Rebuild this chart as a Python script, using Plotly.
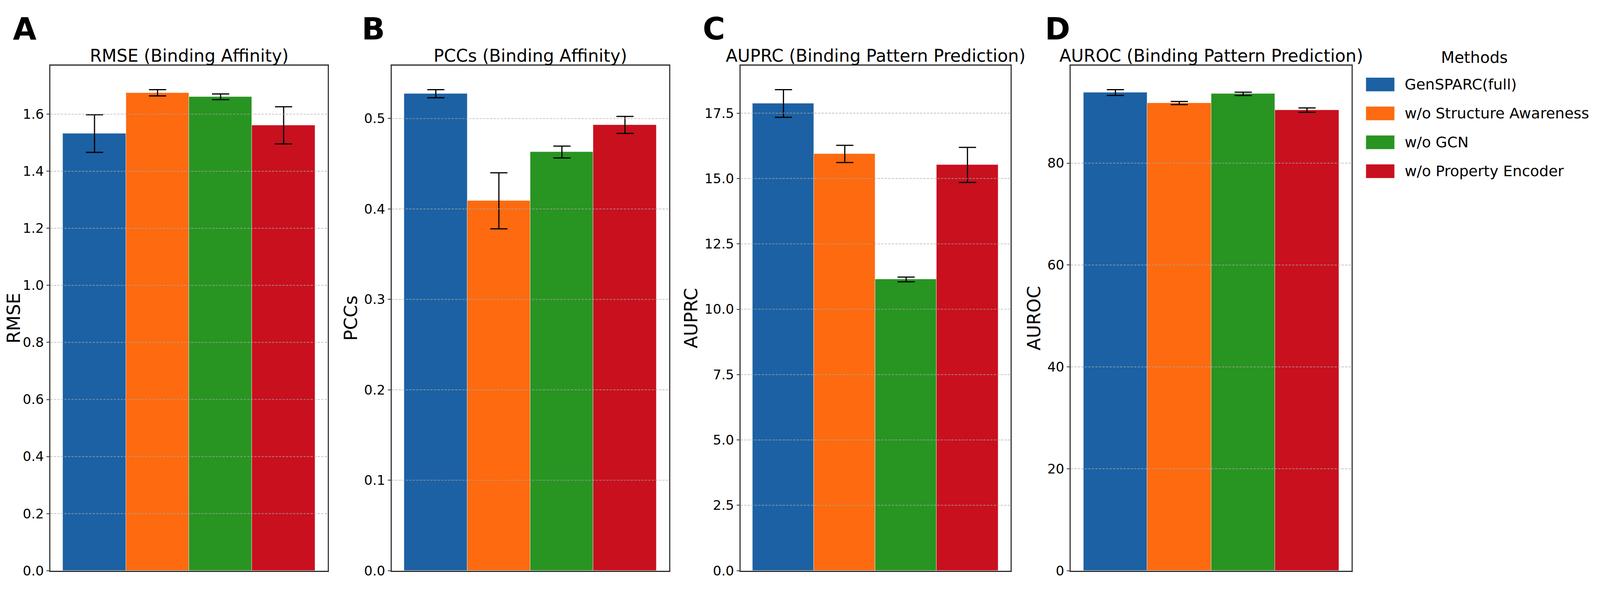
import plotly.graph_objects as go

# ---- data ----
methods = ["GenSPARC(full)", "w/o Structure Awareness", "w/o GCN", "w/o Property Encoder"]
colors = ["#1c61a3", "#fd6a10", "#289422", "#c8101f"]

rmse = [1.532, 1.675, 1.661, 1.561]
rmse_err = [0.066, 0.011, 0.010, 0.065]

pccs = [0.5275, 0.409, 0.463, 0.493]
pccs_err = [0.0045, 0.031, 0.0065, 0.0094]

auprc = [17.87, 15.94, 11.14, 15.52]
auprc_err = [0.53, 0.33, 0.09, 0.67]

auroc = [93.86, 91.80, 93.60, 90.40]
auroc_err = [0.57, 0.30, 0.32, 0.43]

rmse_ticks = [0.0, 0.2, 0.4, 0.6, 0.8, 1.0, 1.2, 1.4, 1.6]
pccs_ticks = [0.0, 0.1, 0.2, 0.3, 0.4, 0.5]
auprc_ticks = [0.0, 2.5, 5.0, 7.5, 10.0, 12.5, 15.0, 17.5]
auroc_ticks = [0, 20, 40, 60, 80]

panels = [
    ("A", "RMSE (Binding Affinity)", "RMSE", rmse, rmse_err, rmse_ticks, ".1f"),
    ("B", "PCCs (Binding Affinity)", "PCCs", pccs, pccs_err, pccs_ticks, ".1f"),
    ("C", "AUPRC (Binding Pattern Prediction)", "AUPRC", auprc, auprc_err, auprc_ticks, ".1f"),
    ("D", "AUROC (Binding Pattern Prediction)", "AUROC", auroc, auroc_err, auroc_ticks, "d"),
]

# ---- layout geometry, measured in pixels of the 5734x1523 reference ----
# the browser here gives a 4096 px wide page, so the width is left to autosize
# and everything is placed as fractions of the reference canvas
W, H = 5734, 1523
FONT = "DejaVu Sans"
x_px = [(170, 1168), (1398, 2396), (2653, 3624), (3841, 4852)]
letter_px = [32, 1288, 2514, 3745]
top_px, bottom_px = 170, 1480


def px(x):
    return x / W


def py(y):
    return 1 - (y - 8) / H  # 8 px body margin of the page


fig = go.Figure()
shapes = []
annotations = []

for i, (letter, title, ylab, vals, errs, ticks, fmt) in enumerate(panels):
    n = "" if i == 0 else str(i + 1)
    xa, ya = "x" + n, "y" + n

    fig.add_trace(go.Bar(
        x=methods, y=vals,
        marker=dict(color=colors, line=dict(color="rgba(255,255,255,0.55)", width=1.2)),
        error_y=dict(type="data", array=errs, color="black", thickness=3, width=22),
        width=1.0, showlegend=False,
        xaxis=xa, yaxis=ya,
    ))

    ymax = 1.05 * max(v + e for v, e in zip(vals, errs))
    x0, x1 = x_px[i]

    fig.layout["xaxis" + n] = dict(
        domain=[px(x0), px(x1)], anchor=ya,
        range=[-0.7, 3.7], showticklabels=False, ticks="",
        showgrid=False, zeroline=False,
        showline=True, mirror=True, linecolor="#2a2a2a", linewidth=2.5,
    )
    fig.layout["yaxis" + n] = dict(
        domain=[py(bottom_px), py(top_px)], anchor=xa,
        range=[0, ymax], tickvals=ticks, tickformat=fmt,
        ticks="outside", ticklen=7, tickwidth=2.2, tickcolor="#333333",
        tickfont=dict(family=FONT, size=34, color="black"),
        showgrid=False, zeroline=False,
        showline=True, mirror=True, linecolor="#3a3a3a", linewidth=2.5,
        title=dict(text=ylab, font=dict(family=FONT, size=46, color="black"), standoff=4),
    )

    # dashed y grid drawn over the bars (as matplotlib does)
    for t in ticks[1:]:
        shapes.append(dict(
            type="line", xref=xa + " domain", yref=ya,
            x0=0, x1=1, y0=t, y1=t, layer="above",
            line=dict(color="rgba(170,170,170,0.65)", width=2.2, dash="6px,3px"),
        ))

    annotations.append(dict(
        text=title, x=px((x0 + x1) / 2), y=py(172), xref="paper", yref="paper",
        xanchor="center", yanchor="bottom", showarrow=False,
        font=dict(family=FONT, size=44, color="black"),
    ))
    annotations.append(dict(
        text="<b>" + letter + "</b>", x=px(letter_px[i]), y=py(122), xref="paper", yref="paper",
        xanchor="left", yanchor="bottom", showarrow=False,
        font=dict(family=FONT, size=78, color="black"),
    ))

# ---- legend, drawn to match the large matplotlib patches ----
annotations.append(dict(
    text="Methods", x=px(5293), y=py(174), xref="paper", yref="paper",
    xanchor="center", yanchor="bottom", showarrow=False,
    font=dict(family=FONT, size=40, color="black"),
))
for i, (name, c) in enumerate(zip(methods, colors)):
    top = 201 + 75 * i
    shapes.append(dict(
        type="rect", xref="paper", yref="paper",
        x0=px(4903), x1=px(5006), y0=py(top + 36), y1=py(top),
        fillcolor=c, line=dict(color="rgba(255,255,255,0.55)", width=1.2),
    ))
    annotations.append(dict(
        text=name, x=px(5040), y=py(top + 18), xref="paper", yref="paper",
        xanchor="left", yanchor="middle", showarrow=False,
        font=dict(family=FONT, size=38, color="black"),
    ))

fig.update_layout(
    height=H, autosize=True,
    margin=dict(l=0, r=0, t=0, b=0),
    paper_bgcolor="white", plot_bgcolor="white",
    bargap=0, showlegend=False,
    shapes=shapes, annotations=annotations,
    font=dict(family=FONT),
)

fig.write_html("out.html")
